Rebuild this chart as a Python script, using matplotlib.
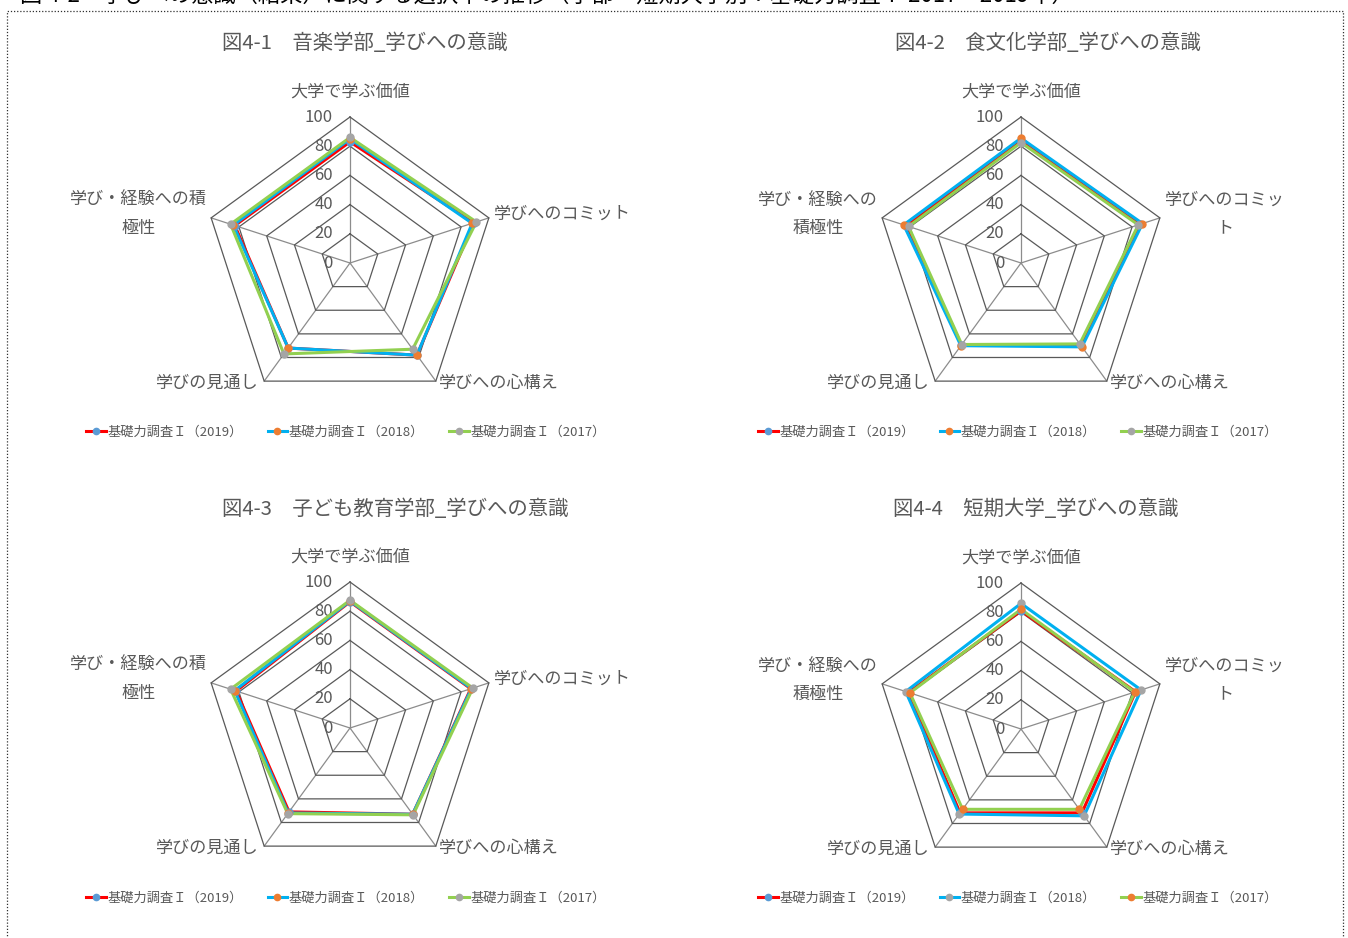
import numpy as np
import matplotlib
matplotlib.use('Agg')
import matplotlib.pyplot as plt
from matplotlib.lines import Line2D
from matplotlib.patches import Rectangle

plt.rcParams['font.family'] = ['Noto Sans CJK JP', 'DejaVu Sans']

W, H = 1348, 938
DPI = 100

# axis names (wrapped differently depending on chart width)
axis_names_a = ['大学で学ぶ価値', '学びへのコミット', '学びへの心構え', '学びの見通し', '学び・経験への積\n極性']
axis_names_b = ['大学で学ぶ価値', '学びへのコミッ\nト', '学びへの心構え', '学びの見通し', '学び・経験への\n積極性']

titles = ['図4-1　音楽学部_学びへの意識', '図4-2　食文化学部_学びへの意識',
          '図4-3　子ども教育学部_学びへの意識', '図4-4　短期大学_学びへの意識']
years = ['基礎力調査Ｉ（2019）', '基礎力調査Ｉ（2018）', '基礎力調査Ｉ（2017）']

music_2019 = [83, 89, 78, 72, 83]
music_2018 = [85, 88, 78, 72, 84]
music_2017 = [86, 91, 73, 77, 86]

food_2019 = [83.5, 85.5, 69.5, 69.5, 82.5]
food_2018 = [85.5, 87.5, 71, 70, 84.5]
food_2017 = [82.5, 84.5, 68.5, 69, 81]

child_2019 = [86.5, 87, 73, 71, 82]
child_2018 = [87, 87.5, 73, 72, 83]
child_2017 = [87.5, 88.5, 73.5, 72.5, 86]

junior_2019 = [81, 82.5, 71, 71, 81]
junior_2018 = [86, 86.5, 73.5, 72, 83]
junior_2017 = [82, 82, 68, 68, 80]

ticks = [0, 20, 40, 60, 80, 100]

line_colors = ['#FF0000', '#00B0F0', '#92D050']
marker_sets = [['#5B9BD5', '#ED7D31', '#A5A5A5']] * 3 + [['#5B9BD5', '#A5A5A5', '#ED7D31']]

panels = [
    dict(cx=350, cy=263, title_x=222, title_y=43, names=axis_names_a,
         series=[music_2019, music_2018, music_2017], leg_x=86, leg_y=432),
    dict(cx=1021, cy=263, title_x=895, title_y=43, names=axis_names_b,
         series=[food_2019, food_2018, food_2017], leg_x=758, leg_y=432),
    dict(cx=350, cy=728, title_x=222, title_y=509, names=axis_names_a,
         series=[child_2019, child_2018, child_2017], leg_x=86, leg_y=898),
    dict(cx=1021, cy=729, title_x=893, title_y=509, names=axis_names_b,
         series=[junior_2019, junior_2018, junior_2017], leg_x=758, leg_y=898),
]

RPX = 146.0          # pixels for 100
HALF = 160           # half size of each radar box, px
px = 100.0 / RPX     # data units per pixel
lim = HALF * px
GRAY = '#595959'
LBL = 12.3

fig = plt.figure(figsize=(W / DPI, H / DPI), dpi=DPI)

# page heading, running off the top edge
fig.text(20 / W, 1 + 5 / H, '図 4-2　学びへの意識（結果）に関する選択率の推移（学部・短期大学別：基礎力調査Ⅰ 2017～2019年）',
         fontsize=16, color='black', ha='left', va='center')

# dotted page frame
fig.patches.append(Rectangle((7 / W, -0.05), 1336 / W, 1.05 - 11 / H, transform=fig.transFigure,
                             fill=False, ec='#303030', lw=0.9, ls=(0, (1, 1.5))))

angles = np.deg2rad(90 - 72 * np.arange(5))


def xy(vals):
    v = np.asarray(vals, dtype=float)
    return v * np.cos(angles), v * np.sin(angles)


for i, p in enumerate(panels):
    ax = fig.add_axes([(p['cx'] - HALF) / W, (H - p['cy'] - HALF) / H, 2 * HALF / W, 2 * HALF / H])
    ax.set_xlim(-lim, lim)
    ax.set_ylim(-lim, lim)
    ax.set_aspect('equal')
    ax.axis('off')

    # spokes
    for a in angles:
        ax.plot([0, 100 * np.cos(a)], [0, 100 * np.sin(a)], color='#8c8c8c', lw=0.9, zorder=1)
    # rings
    for t in ticks[1:]:
        gx, gy = xy([t] * 5)
        ax.plot(np.append(gx, gx[0]), np.append(gy, gy[0]), color='#595959', lw=0.9, zorder=1)
    for t in ticks:
        ax.text(-17 * px, t, str(t), ha='right', va='center', fontsize=12, color=GRAY)

    # data series
    handles = []
    for vals, lc, mc in zip(p['series'], line_colors, marker_sets[i]):
        sx, sy = xy(vals)
        ax.plot(np.append(sx, sx[0]), np.append(sy, sy[0]), color=lc, lw=2.2, zorder=3,
                solid_joinstyle='miter')
        ax.plot(sx, sy, ls='none', marker='o', ms=5, mfc=mc, mec=mc, zorder=4)
        handles.append(Line2D([], [], color=lc, lw=2.2, marker='o', ms=4.5, mfc=mc, mec=mc))

    # axis names
    vx, vy = xy([100] * 5)
    names = p['names']
    ax.text(0, 170 * px, names[0], ha='center', va='center', fontsize=LBL, color=GRAY)
    ax.text(vx[1] + 5 * px, vy[1] + 4 * px, names[1], ha='left', va='center', fontsize=LBL,
            color=GRAY, multialignment='center', linespacing=1.7)
    ax.text(vx[2] + 3 * px, vy[2] - 2 * px, names[2], ha='left', va='center', fontsize=LBL, color=GRAY)
    ax.text(vx[3] - 5 * px, vy[3] - 2 * px, names[3], ha='right', va='center', fontsize=LBL, color=GRAY)
    ax.text(vx[4] - 4 * px, vy[4] + 4 * px, names[4], ha='right', va='center', fontsize=LBL,
            color=GRAY, multialignment='center', linespacing=1.7)

    fig.text(p['title_x'] / W, 1 - p['title_y'] / H, titles[i],
             ha='left', va='center', fontsize=14.7, color=GRAY)

    leg = fig.legend(handles, years, loc='center left',
                     bbox_to_anchor=(p['leg_x'] / W, 1 - p['leg_y'] / H), ncol=3, frameon=False,
                     fontsize=9.5, handlelength=1.5, handletextpad=0.1, columnspacing=1.9,
                     borderpad=0, borderaxespad=0)
    for txt in leg.get_texts():
        txt.set_color(GRAY)

fig.savefig('out.png', dpi=DPI)
